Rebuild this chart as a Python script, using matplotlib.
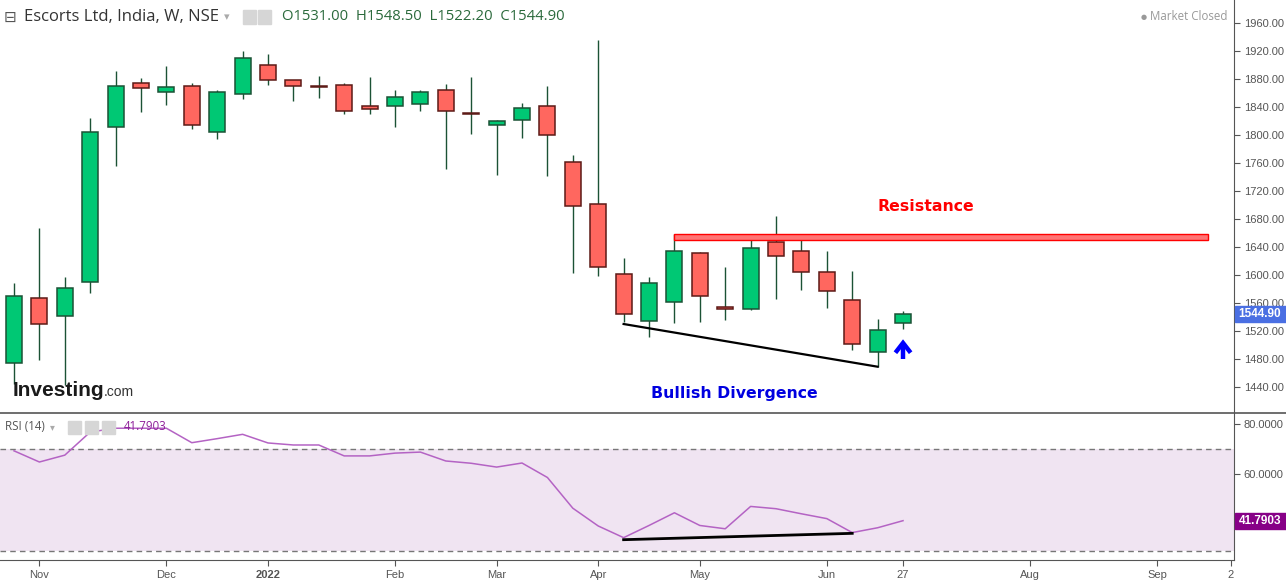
import matplotlib
matplotlib.use('Agg')
import matplotlib.pyplot as plt
from matplotlib.lines import Line2D
from matplotlib.patches import Rectangle
import numpy as np

# weekly candles, index 0 = week of 25 Oct 2021
opens = [1475, 1567, 1541, 1590, 1812, 1875, 1861, 1870, 1805, 1858, 1900, 1878,
         1870, 1871, 1841, 1841, 1845, 1865, 1832, 1815, 1822, 1841, 1761, 1701,
         1601, 1534, 1561, 1632, 1555, 1551, 1647, 1635, 1604, 1565, 1490, 1531]
highs = [1588, 1667, 1597, 1825, 1891, 1881, 1899, 1874, 1865, 1920, 1916, 1879,
         1884, 1874, 1883, 1865, 1865, 1873, 1883, 1822, 1846, 1870, 1771, 1936,
         1625, 1597, 1659, 1633, 1611, 1659, 1684, 1652, 1634, 1606, 1537, 1548.5]
lows = [1445, 1478, 1443, 1574, 1756, 1833, 1843, 1808, 1794, 1852, 1872, 1849,
        1853, 1830, 1830, 1812, 1835, 1752, 1802, 1743, 1796, 1742, 1603, 1599,
        1533, 1512, 1532, 1533, 1536, 1550, 1566, 1578, 1553, 1493, 1469, 1522.2]
closes = [1570, 1530, 1581, 1804, 1870, 1867, 1868, 1815, 1861, 1910, 1878, 1870,
          1869, 1835, 1837, 1855, 1861, 1835, 1830, 1820, 1838, 1800, 1698, 1611,
          1544, 1588, 1635, 1570, 1551, 1638, 1627, 1604, 1577, 1501, 1521, 1544.9]

rsi = [69.3, 64.9, 67.6, 76.7, 78.2, 78.2, 78.2, 72.5, 74.1, 75.8, 72.4, 71.6,
       71.6, 67.3, 67.3, 68.4, 68.8, 65.3, 64.4, 62.9, 64.5, 58.8, 46.7, 39.7,
       35.1, 39.9, 44.9, 39.9, 38.6, 47.4, 46.5, 44.5, 42.6, 37.1, 39.0, 41.7903]

tick_pos = [1, 6, 10, 15, 19, 23, 27, 32, 35, 40, 45, 47.9]
tick_labels = ['Nov', 'Dec', '2022', 'Feb', 'Mar', 'Apr', 'May', 'Jun', '27', 'Aug', 'Sep', '2']
price_ticks = np.arange(1440, 1961, 40)
rsi_ticks = [80, 60]

# drawn annotations (week index, price / rsi)
resistance_lo, resistance_hi = 1650, 1659
resistance_from, resistance_to = 26, 47
div_price_x, div_price_y = [24, 34], [1530, 1469]
div_rsi_x, div_rsi_y = [24, 33], [34.3, 36.8]
arrow_x, arrow_lo, arrow_wing, arrow_top = 35, 1480, 1489, 1503

W, H = 1286, 580
GREEN, GREEN_EDGE = '#00c874', '#1b5235'
RED, RED_EDGE = '#ff675f', '#5c1a16'
AXCOL = '#555555'


def fx(x):
    return x / W


def fy(y):
    return 1 - y / H


fig = plt.figure(figsize=(W / 100, H / 100), dpi=100)
ax = fig.add_axes([0, fy(412), fx(1234), fy(0) - fy(412)])
rx = fig.add_axes([0, fy(560), fx(1234), fy(413) - fy(560)])

# ***** candles *****
x = np.arange(len(opens))
o = np.array(opens)
c = np.array(closes)
up = c >= o
bottom = np.minimum(o, c)
height = np.maximum(np.abs(c - o), 0.8)
ax.vlines(x, lows, highs, color=GREEN_EDGE, lw=1.0, zorder=2)
ax.bar(x[up], height[up], bottom=bottom[up], width=0.63, color=GREEN,
       edgecolor=GREEN_EDGE, lw=1.1, zorder=3)
ax.bar(x[~up], height[~up], bottom=bottom[~up], width=0.63, color=RED,
       edgecolor=RED_EDGE, lw=1.1, zorder=3)

ax.add_patch(Rectangle((resistance_from, resistance_lo), resistance_to - resistance_from,
                       resistance_hi - resistance_lo, facecolor='#ff7474',
                       edgecolor='#ff0000', lw=1.0, zorder=4))
ax.plot(div_price_x, div_price_y, color='black', lw=1.6, zorder=4)
ax.plot([arrow_x, arrow_x], [arrow_lo, arrow_top - 2], color='#0000ff', lw=3.2,
        solid_capstyle='butt', zorder=5)
ax.plot([arrow_x - 0.3, arrow_x, arrow_x + 0.3], [arrow_wing, arrow_top, arrow_wing],
        color='#0000ff', lw=3.2, solid_joinstyle='miter', solid_capstyle='butt', zorder=5)

ax.text(35.9, 1698, 'Resistance', color='#ff0000', fontsize=11.3, fontweight='bold',
        family='DejaVu Sans', ha='center', va='center')
ax.text(28.35, 1431, 'Bullish Divergence', color='#0000e0', fontsize=11.3,
        fontweight='bold', family='DejaVu Sans', ha='center', va='center')

ax.set_xlim(-0.551, 48.03)
ax.set_ylim(1404.3, 1992.9)
ax.yaxis.tick_right()
ax.set_yticks(price_ticks)
ax.set_yticklabels(['%.2f' % v for v in price_ticks])
ax.set_xticks([])
for s in ['left', 'top', 'bottom']:
    ax.spines[s].set_visible(False)
ax.spines['right'].set_color(AXCOL)

# ***** RSI *****
rx.axhspan(30, 70, color='#f0e4f2', lw=0)
rx.axhline(70, color='#777777', lw=1, ls=(0, (4, 3)))
rx.axhline(30, color='#777777', lw=1, ls=(0, (4, 3)))
rx.plot(x, rsi, color='#b463c4', lw=1.1)
rx.plot(div_rsi_x, div_rsi_y, color='black', lw=2)
rx.set_xlim(-0.551, 48.03)
rx.set_ylim(26.3, 84.2)
rx.yaxis.tick_right()
rx.set_yticks(rsi_ticks)
rx.set_yticklabels(['%.4f' % v for v in rsi_ticks])
rx.set_xticks(tick_pos)
rx.set_xticklabels(tick_labels)
for s in ['left', 'top']:
    rx.spines[s].set_visible(False)
rx.spines['right'].set_color(AXCOL)
rx.spines['bottom'].set_color(AXCOL)

for a in (ax, rx):
    a.tick_params(length=4, color=AXCOL, labelcolor=AXCOL, labelsize=8, pad=3)
    for t in a.get_xticklabels() + a.get_yticklabels():
        t.set_family('Liberation Sans')
for t in rx.get_xticklabels():
    if t.get_text() == '2022':
        t.set_fontweight('bold')

# pane divider
fig.add_artist(Line2D([0, 1], [fy(412.5), fy(412.5)], color=AXCOL, lw=1.2))


# value tags on the right axis
def value_tag(axis, value, text, color):
    _, yp = axis.transData.transform((0, value))
    fig.add_artist(Rectangle((1235 / W, (yp - 8) / H), 51 / W, 16 / H,
                             transform=fig.transFigure, color=color))
    fig.text(1260 / W, yp / H, text, ha='center', va='center', color='white',
             fontweight='bold', fontsize=8.5, family='Liberation Sans')


value_tag(ax, closes[-1], '%.2f' % closes[-1], '#4a6fe3')
value_tag(rx, rsi[-1], '%.4f' % rsi[-1], '#870087')

# ***** header *****
fig.text(fx(4), fy(17), '⊟', fontsize=11, color='#555', va='center', family='DejaVu Sans')
fig.text(fx(24), fy(17), 'Escorts Ltd, India, W, NSE', fontsize=12, color='#333',
         va='center', family='Open Sans')
fig.text(fx(224), fy(17), '▾', fontsize=8, color='#aaa', va='center', family='DejaVu Sans')
for px in (243, 258):
    fig.add_artist(Rectangle((fx(px), fy(24)), 13 / W, 14 / H, transform=fig.transFigure,
                             color='#d6d6d6'))
fig.text(fx(282), fy(17), 'O1531.00  H1548.50  L1522.20  C1544.90', fontsize=10.7,
         color='#2b6a3c', va='center', family='Open Sans')
fig.text(fx(1141), fy(17), '●', fontsize=5, color='#999', va='center', family='DejaVu Sans')
fig.text(fx(1228), fy(17), 'Market Closed', fontsize=8.3, color='#999', va='center',
         ha='right', family='Open Sans')

fig.text(fx(5), fy(427), 'RSI (14)', fontsize=8.3, color='#555', va='center',
         family='Open Sans')
fig.text(fx(50), fy(427), '▾', fontsize=7, color='#aaa', va='center', family='DejaVu Sans')
for px in (68, 85, 102):
    fig.add_artist(Rectangle((fx(px), fy(434)), 13 / W, 13 / H, transform=fig.transFigure,
                             color='#d6d6d6'))
fig.text(fx(124), fy(427), '41.7903', fontsize=8.3, color='#8e1f99', va='center',
         family='Open Sans')

fig.text(fx(13), fy(390), 'Investing', fontsize=15, fontweight='bold', color='#1a1a1a',
         va='center', family='Liberation Sans')
fig.text(fx(104), fy(392), '.com', fontsize=10, color='#333', va='center',
         family='Liberation Sans')

fig.savefig('out.png', dpi=100)
